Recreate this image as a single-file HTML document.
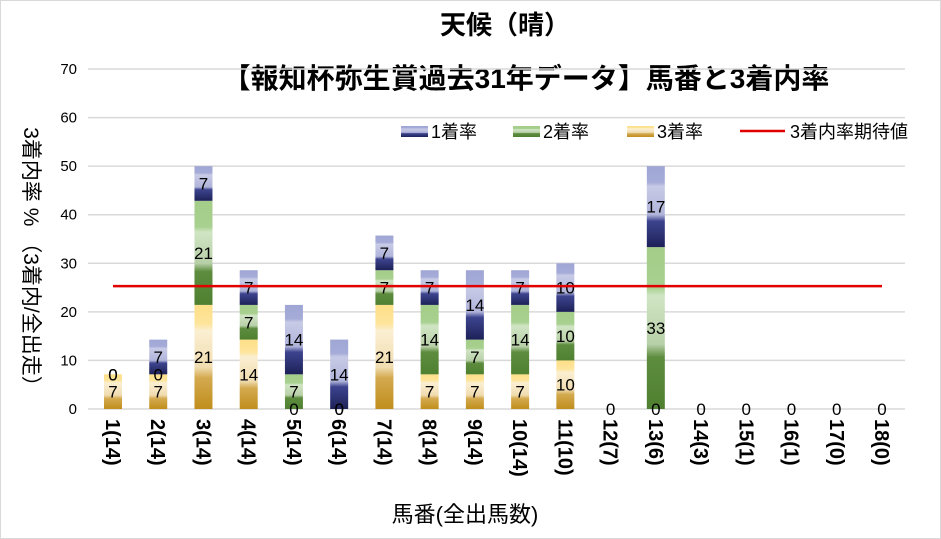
<!DOCTYPE html>
<html><head><meta charset="utf-8"><style>
body{margin:0;background:#fff}
svg{display:block;font-family:"Liberation Sans","Noto Sans CJK JP",sans-serif}
</style></head><body>
<svg id="c" width="941" height="539" viewBox="0 0 941 539">
<defs>
<linearGradient id="g3" x1="0" y1="0" x2="0" y2="1">
<stop offset="0" stop-color="#ffdf88"/><stop offset="0.18" stop-color="#fde59c"/><stop offset="0.25" stop-color="#fbefd2"/><stop offset="0.6" stop-color="#f0dcb0"/><stop offset="0.7" stop-color="#d4aa50"/><stop offset="1" stop-color="#c08e1c"/></linearGradient>
<linearGradient id="g2" x1="0" y1="0" x2="0" y2="1">
<stop offset="0" stop-color="#a3cd88"/><stop offset="0.25" stop-color="#a8d090"/><stop offset="0.3" stop-color="#d0e5c4"/><stop offset="0.6" stop-color="#b8d0a8"/><stop offset="0.68" stop-color="#5d8c3e"/><stop offset="1" stop-color="#4f8030"/></linearGradient>
<linearGradient id="g1" x1="0" y1="0" x2="0" y2="1">
<stop offset="0" stop-color="#9fa6d4"/><stop offset="0.2" stop-color="#a6acd8"/><stop offset="0.25" stop-color="#c8cbe6"/><stop offset="0.6" stop-color="#b0b4da"/><stop offset="0.68" stop-color="#3d448e"/><stop offset="1" stop-color="#1d2158"/></linearGradient>
</defs>
<rect x="0.5" y="0.5" width="940" height="538" fill="#fff" stroke="#d9d9d9"/>
<text x="505" y="34" font-size="26" font-weight="bold" text-anchor="middle">天候（晴）</text>
<text x="526" y="88" font-size="28" font-weight="bold" text-anchor="middle">【報知杯弥生賞過去31年データ】馬番と3着内率</text>
<g id="grid"></g>
<g id="bars"></g>
<g id="labels"></g>
<g id="xlab"></g>
<text transform="translate(24,262) rotate(90)" font-size="21" text-anchor="middle">3着内率 % （3着内/全出走）</text>
<text x="465" y="522" font-size="22" text-anchor="middle">馬番(全出馬数)</text>
<g>
<rect x="401" y="126" width="27" height="11" fill="url(#g1)"/>
<text x="431" y="138" font-size="18">1着率</text>
<rect x="513" y="126" width="27" height="11" fill="url(#g2)"/>
<text x="543" y="138" font-size="18">2着率</text>
<rect x="627" y="126" width="27" height="11" fill="url(#g3)"/>
<text x="657" y="138" font-size="18">3着率</text>
<line x1="740" y1="131" x2="785" y2="131" stroke="#e00000" stroke-width="2.5"/>
<text x="790" y="138" font-size="18">3着内率期待値</text>
</g>
</svg>
<script>
const categories=["1(14)","2(14)","3(14)","4(14)","5(14)","6(14)","7(14)","8(14)","9(14)","10(14)","11(10)","12(7)","13(6)","14(3)","15(1)","16(1)","17(0)","18(0)"];
const first=[0,7.14,7.14,7.14,14.29,14.29,7.14,7.14,14.29,7.14,10,0,16.67,0,0,0,0,0];
const second=[0,0,21.43,7.14,7.14,0,7.14,14.29,7.14,14.29,10,0,33.33,0,0,0,0,0];
const third=[7.14,7.14,21.43,14.29,0,0,21.43,7.14,7.14,7.14,10,0,0,0,0,0,0,0];
const expected=25.3;
const yTicks=[0,10,20,30,40,50,60,70];
const NS="http://www.w3.org/2000/svg";
const y0=409,pxPer=340/70,x0=113,dx=(882-113)/17,bw=18;
const Y=v=>y0-v*pxPer, X=i=>x0+i*dx;
function mk(t,a,p){const e=document.createElementNS(NS,t);for(const k in a)e.setAttribute(k,a[k]);p.appendChild(e);return e;}
const grid=document.getElementById('grid'),bars=document.getElementById('bars'),labels=document.getElementById('labels'),xlab=document.getElementById('xlab');
yTicks.forEach(v=>{
 const l=mk('line',{x1:88,x2:905,y1:Y(v),y2:Y(v),stroke:'#d9d9d9','stroke-width':1.5},grid);
 
 
 const t=mk('text',{x:77,y:Y(v)+5,'font-size':15,'text-anchor':'end'},grid);
 t.textContent=v;
 
 
});
categories.forEach((c,i)=>{
 const series=[[third[i],'g3','third'],[second[i],'g2','second'],[first[i],'g1','first']];
 const empty=first[i]+second[i]+third[i]===0;
 let base=0;
 series.forEach(([v,g,n],k)=>{
  if(v>0){
   const r=mk('rect',{x:X(i)-bw/2,y:Y(base+v),width:bw,height:v*pxPer,fill:'url(#'+g+')'},bars);
   
   
  }
  if(!(empty&&k>0)){
   const t=mk('text',{x:X(i),y:Y(base+v/2)+6,'font-size':17,'text-anchor':'middle'},labels);
   t.textContent=Math.round(v);
   
   
  }
  base+=v;
 });
 const xt=mk('text',{transform:'translate('+(X(i)-7)+',419) rotate(90)','font-size':20,'font-weight':'bold'},xlab);
 xt.textContent=c;
 
 
});
const el=mk('line',{x1:X(0),x2:X(17),y1:Y(expected),y2:Y(expected),stroke:'#e00000','stroke-width':2.5},labels);


</script>
</body></html>
